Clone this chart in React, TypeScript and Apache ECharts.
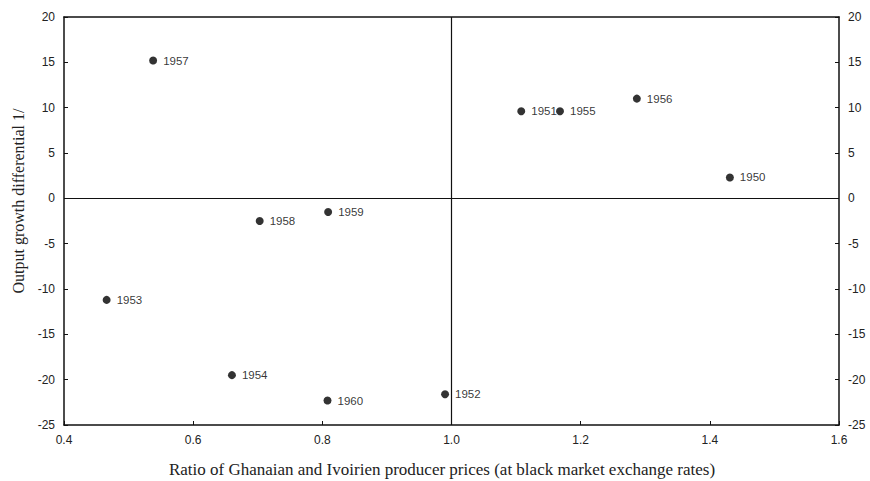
import React, { useEffect, useRef } from "react";
import * as echarts from "echarts";

const years = ["1950", "1951", "1952", "1953", "1954", "1955", "1956", "1957", "1958", "1959", "1960"];
const priceRatio = [1.431, 1.108, 0.990, 0.466, 0.660, 1.168, 1.287, 0.538, 0.703, 0.809, 0.808];
const growthDiff = [2.3, 9.6, -21.6, -11.2, -19.5, 9.6, 11.0, 15.2, -2.5, -1.5, -22.3];
const xTitle = "Ratio of Ghanaian and Ivoirien producer prices (at black market exchange rates)";
const yTitle = "Output growth differential 1/";

export default function App() {
  const ref = useRef<HTMLDivElement>(null);
  useEffect(() => {
    if (!ref.current) return;
    const chart = echarts.init(ref.current, null, { renderer: "svg" });
    const sans = "'Liberation Sans', Arial, sans-serif";
    const serif = "'Liberation Serif', 'Times New Roman', serif";
    const points = years.map((y, i) => [priceRatio[i], growthDiff[i], y]);
    const yAxisBase = {
      type: "value",
      min: -25,
      max: 20,
      interval: 5,
      splitLine: { show: false },
      axisLine: { show: true, onZero: false, lineStyle: { color: "#111", width: 1.5 } },
      axisTick: { show: true, inside: true, length: 4, lineStyle: { color: "#111" } },
      axisLabel: { color: "#222", fontFamily: sans, fontSize: 12, margin: 9 },
    };
    chart.setOption({
      animation: false,
      grid: { left: 64, right: 31, top: 17, bottom: 56, containLabel: false },
      graphic: [
        {
          type: "text",
          x: 18,
          y: 201,
          rotation: Math.PI / 2,
          style: {
            text: yTitle,
            fontFamily: serif,
            fontSize: 16,
            fill: "#222",
            align: "center",
            verticalAlign: "middle",
          },
        },
        {
          type: "text",
          x: 442,
          y: 469,
          style: {
            text: xTitle,
            fontFamily: serif,
            fontSize: 17,
            fill: "#222",
            align: "center",
            verticalAlign: "middle",
          },
        },
      ],
      xAxis: [
        {
          type: "value",
          min: 0.4,
          max: 1.6,
          interval: 0.2,
          splitLine: { show: false },
          axisLine: { show: true, onZero: false, lineStyle: { color: "#111", width: 1.5 } },
          axisTick: { show: true, inside: true, length: 4, lineStyle: { color: "#111" } },
          axisLabel: {
            color: "#222",
            fontFamily: sans,
            fontSize: 12,
            margin: 9,
            formatter: (v: number) => v.toFixed(1),
          },
        },
        {
          type: "value",
          position: "top",
          min: 0.4,
          max: 1.6,
          splitLine: { show: false },
          axisLine: { show: true, onZero: false, lineStyle: { color: "#111", width: 1.5 } },
          axisTick: { show: false },
          axisLabel: { show: false },
        },
      ],
      yAxis: [
        { ...yAxisBase, position: "left" },
        { ...yAxisBase, position: "right" },
      ],
      series: [
        {
          type: "scatter",
          data: points,
          symbol: "circle",
          symbolSize: 8,
          itemStyle: { color: "#000" },
          label: {
            show: true,
            position: "right",
            distance: 6,
            formatter: (p: any) => p.data[2],
            fontFamily: sans,
            fontSize: 11.5,
            color: "#000",
          },
          markLine: {
            silent: true,
            symbol: "none",
            label: { show: false },
            lineStyle: { color: "#111", width: 1.2, type: "solid" },
            data: [{ xAxis: 1.0 }, { yAxis: 0 }],
          },
        },
      ],
    });
    return () => chart.dispose();
  }, []);
  return (
    <div
      ref={ref}
      style={{ position: "absolute", left: 0, top: 0, width: 870, height: 481, background: "#fff" }}
    />
  );
}
